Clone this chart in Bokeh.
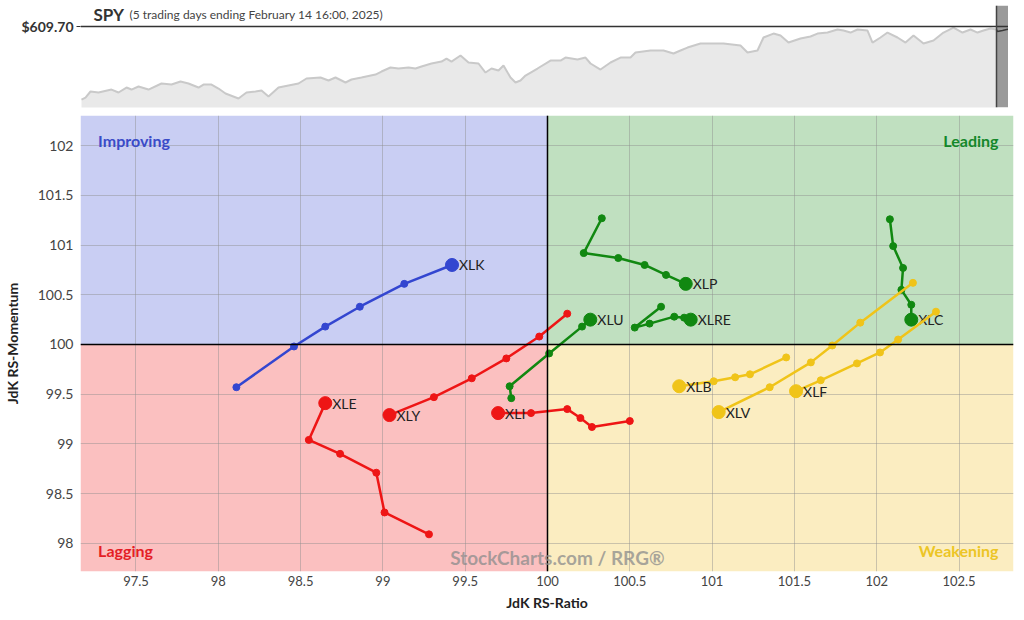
from bokeh.plotting import figure
from bokeh.layouts import column
from bokeh.models import BoxAnnotation, Span, Label, FixedTicker, Range1d
from bokeh.core.properties import value
from bokeh.embed import file_html
from bokeh.resources import INLINE

# ---------------- SPY panel data (one year history + last 5 trading days) -------------
spy_t = [1, 5, 10, 18, 31, 38, 46, 51, 58, 68, 81, 91, 100, 108, 118, 123, 131, 138, 145, 158,
         166, 175, 181, 188, 198, 208, 218, 226, 240, 248, 255, 265, 271, 281, 295, 301, 310, 318,
         328, 335, 341, 351, 361, 366, 371, 380, 388, 398, 405, 411, 418, 423, 430, 435, 440, 445,
         457, 470, 480, 485, 497, 505, 510, 520, 530, 540, 550, 555, 570, 583, 593, 600, 607, 620,
         630, 643, 660, 667, 677, 683, 693, 700, 708, 720, 730, 737, 747, 757, 763, 770, 777, 787,
         792, 800, 807, 817, 825, 833, 843, 853, 863, 873, 882, 890, 897, 903, 910, 916]
spy_price = [493.4, 496.6, 506.2, 504.6, 509.3, 504.6, 512.5, 509.3, 514.1, 509.3, 518.9, 517.3,
             522.1, 518.9, 512.5, 517.3, 517.3, 510.9, 503.0, 495.0, 504.6, 506.2, 507.7, 498.2,
             512.5, 515.7, 518.9, 526.9, 528.5, 523.7, 528.5, 520.5, 525.3, 528.5, 533.2, 538.0,
             544.4, 542.8, 544.4, 542.8, 546.0, 550.8, 553.9, 558.7, 553.9, 563.5, 552.4, 550.8,
             536.4, 542.8, 539.6, 547.6, 528.5, 520.5, 523.7, 531.6, 542.8, 555.5, 555.5, 560.3,
             557.1, 560.3, 550.8, 541.2, 552.4, 560.3, 560.3, 568.3, 571.5, 571.5, 566.7, 571.5,
             576.2, 582.6, 582.6, 582.6, 579.4, 568.3, 571.5, 592.2, 598.5, 595.4, 584.2, 590.6,
             593.8, 598.5, 600.1, 604.9, 603.3, 600.1, 604.9, 603.3, 584.2, 592.2, 600.1, 592.2,
             584.2, 595.4, 582.6, 587.4, 600.1, 608.1, 600.1, 604.9, 600.1, 603.3, 606.5, 604.9]
spy_last5_t = [916, 917, 922, 926, 930, 933]
spy_last5_price = [604.9, 601.7, 603.3, 604.9, 606.5, 609.7]
spy_last_price = 609.70
spy_window_start = 916

# ---------------- RRG tails (oldest -> newest) -------------
xlk_ratio = [98.11, 98.46, 98.65, 98.86, 99.13, 99.42]
xlk_momentum = [99.57, 99.98, 100.18, 100.38, 100.61, 100.80]
xlp_ratio = [100.33, 100.22, 100.43, 100.59, 100.72, 100.84]
xlp_momentum = [101.27, 100.92, 100.87, 100.80, 100.70, 100.61]
xlc_ratio = [102.08, 102.10, 102.16, 102.15, 102.21, 102.21]
xlc_momentum = [101.26, 100.99, 100.77, 100.55, 100.40, 100.25]
xlu_ratio = [99.78, 99.77, 100.01, 100.21, 100.26]
xlu_momentum = [99.46, 99.58, 99.91, 100.18, 100.25]
xlre_ratio = [100.69, 100.53, 100.62, 100.77, 100.83, 100.87]
xlre_momentum = [100.38, 100.17, 100.21, 100.28, 100.27, 100.25]
xly_ratio = [100.12, 99.95, 99.75, 99.54, 99.31, 99.04]
xly_momentum = [100.31, 100.08, 99.86, 99.66, 99.47, 99.29]
xle_ratio = [99.28, 99.01, 98.96, 98.74, 98.55, 98.65]
xle_momentum = [98.09, 98.31, 98.71, 98.90, 99.04, 99.41]
xli_ratio = [100.50, 100.27, 100.20, 100.12, 99.90, 99.70]
xli_momentum = [99.23, 99.17, 99.26, 99.35, 99.31, 99.31]
xlb_ratio = [101.45, 101.23, 101.14, 101.01, 100.80]
xlb_momentum = [99.87, 99.70, 99.67, 99.63, 99.58]
xlv_ratio = [102.22, 101.90, 101.73, 101.60, 101.35, 101.04]
xlv_momentum = [100.62, 100.22, 99.99, 99.82, 99.57, 99.32]
xlf_ratio = [102.36, 102.13, 102.02, 101.88, 101.66, 101.51]
xlf_momentum = [100.33, 100.05, 99.92, 99.81, 99.64, 99.53]

tickers = ["XLK", "XLP", "XLC", "XLU", "XLRE", "XLY", "XLE", "XLI", "XLB", "XLV", "XLF"]
tails = {
    "XLK": (xlk_ratio, xlk_momentum), "XLP": (xlp_ratio, xlp_momentum),
    "XLC": (xlc_ratio, xlc_momentum), "XLU": (xlu_ratio, xlu_momentum),
    "XLRE": (xlre_ratio, xlre_momentum), "XLY": (xly_ratio, xly_momentum),
    "XLE": (xle_ratio, xle_momentum), "XLI": (xli_ratio, xli_momentum),
    "XLB": (xlb_ratio, xlb_momentum), "XLV": (xlv_ratio, xlv_momentum),
    "XLF": (xlf_ratio, xlf_momentum),
}
center = 100.0

x_ticks = [97.5, 98, 98.5, 99, 99.5, 100, 100.5, 101, 101.5, 102, 102.5]
x_tick_labels = ["97.5", "98", "98.5", "99", "99.5", "100", "100.5", "101", "101.5", "102", "102.5"]
y_ticks = [98, 98.5, 99, 99.5, 100, 100.5, 101, 101.5, 102]
y_tick_labels = ["98", "98.5", "99", "99.5", "100", "100.5", "101", "101.5", "102"]

# ---------------- styles -------------
FONT = "Lato"
Q_BG = {"improving": "#c9cef3", "leading": "#c0e0c0", "lagging": "#fbc0c0", "weakening": "#fbedc1"}
Q_FG = {"improving": "#3a4bc8", "leading": "#14882a", "lagging": "#e41e26", "weakening": "#ecc526"}
Q_LINE = {"improving": "#3346d0", "leading": "#118811", "lagging": "#ee1515", "weakening": "#f0c419"}


def quadrant(r, m):
    if r >= center:
        return "leading" if m >= center else "weakening"
    return "improving" if m >= center else "lagging"


# ================= top SPY panel =================
top = figure(frame_width=933, frame_height=102, output_backend="svg", toolbar_location=None,
             x_range=Range1d(0, 933), y_range=Range1d(480.7, 643.2),
             min_border_left=74, min_border_right=1, min_border_top=5, min_border_bottom=3)
top.xaxis.visible = False
top.xgrid.visible = False
top.ygrid.visible = False
top.outline_line_color = None
top.background_fill_color = "white"

top.add_layout(BoxAnnotation(left=spy_window_start, fill_color="#9a9a9a", fill_alpha=1.0,
                             line_color=None, level="underlay"))
top.varea(x=spy_t, y1=[0] * len(spy_t), y2=spy_price, fill_color="#e9e9e9")
top.line(spy_t, spy_price, line_color="#c9c9c9", line_width=2)
top.line(spy_last5_t, spy_last5_price, line_color="#3a3a3a", line_width=1.5)
top.add_layout(Span(location=spy_last_price, dimension="width", line_color="#333333", line_width=1.5))
top.add_layout(Span(location=spy_window_start, dimension="height", line_color="#444444", line_width=1.5))

top.yaxis.ticker = FixedTicker(ticks=[spy_last_price])
top.yaxis.major_label_overrides = {spy_last_price: "$%.2f" % spy_last_price}
top.yaxis.axis_line_color = None
top.yaxis.major_tick_line_color = "#333333"
top.yaxis.major_tick_out = 4
top.yaxis.major_tick_in = 0
top.yaxis.minor_tick_line_color = None
top.yaxis.major_label_standoff = 3
top.yaxis.major_label_text_font = FONT
top.yaxis.major_label_text_font_size = "14px"
top.yaxis.major_label_text_font_style = "bold"
top.yaxis.major_label_text_color = "#333333"

top.add_layout(Label(x=13, y=628.8, text="SPY", text_font=FONT, text_font_size="17px",
                     text_font_style="bold", text_color="#333333", text_baseline="middle"))
top.add_layout(Label(x=49, y=628.8, text="(5 trading days ending February 14 16:00, 2025)",
                     text_font=FONT, text_font_size="12px", text_color="#444444",
                     text_baseline="middle"))

# ================= main RRG panel =================
p = figure(frame_width=933, frame_height=456, output_backend="svg", toolbar_location=None,
           x_range=Range1d(97.163, 102.831), y_range=Range1d(97.716, 102.304),
           min_border_left=74, min_border_right=1, min_border_top=5, min_border_bottom=38)
p.outline_line_color = None

p.add_layout(BoxAnnotation(right=center, bottom=center, fill_color=Q_BG["improving"], fill_alpha=1,
                           line_color=None, level="image"))
p.add_layout(BoxAnnotation(left=center, bottom=center, fill_color=Q_BG["leading"], fill_alpha=1,
                           line_color=None, level="image"))
p.add_layout(BoxAnnotation(right=center, top=center, fill_color=Q_BG["lagging"], fill_alpha=1,
                           line_color=None, level="image"))
p.add_layout(BoxAnnotation(left=center, top=center, fill_color=Q_BG["weakening"], fill_alpha=1,
                           line_color=None, level="image"))

p.xaxis.ticker = FixedTicker(ticks=x_ticks)
p.yaxis.ticker = FixedTicker(ticks=y_ticks)
p.xaxis.major_label_overrides = dict(zip(x_ticks, x_tick_labels))
p.yaxis.major_label_overrides = dict(zip(y_ticks, y_tick_labels))
p.grid.grid_line_color = "#8f8f8f"
p.grid.grid_line_alpha = 0.45
p.grid.grid_line_width = 1

for ax in (p.xaxis, p.yaxis):
    ax.axis_line_color = None
    ax.major_tick_line_color = None
    ax.minor_tick_line_color = None
    ax.major_tick_out = 0
    ax.major_tick_in = 0
    ax.minor_tick_out = 0
    ax.minor_tick_in = 0
    ax.major_label_text_font = FONT
    ax.major_label_text_color = "#444444"
    ax.axis_label_text_font = FONT
    ax.axis_label_text_font_size = "14px"
    ax.axis_label_text_font_style = "bold"
    ax.axis_label_text_color = "#222222"
p.xaxis.major_label_text_font_size = "13px"
p.yaxis.major_label_text_font_size = "14px"
p.xaxis.axis_label = "JdK RS-Ratio"
p.yaxis.axis_label = "JdK RS-Momentum"
p.xaxis.major_label_standoff = 4
p.xaxis.axis_label_standoff = 5
p.yaxis.major_label_standoff = 7
p.yaxis.axis_label_standoff = 14

p.add_layout(Span(location=center, dimension="width", line_color="black", line_width=1.5))
p.add_layout(Span(location=center, dimension="height", line_color="black", line_width=1.5))

# quadrant names
p.add_layout(Label(x=97.27, y=102.05, text="Improving", text_font=FONT, text_font_size="16px",
                   text_font_style="bold", text_color=Q_FG["improving"], text_baseline="middle"))
p.add_layout(Label(x=102.74, y=102.05, text="Leading", text_font=FONT, text_font_size="16px",
                   text_font_style="bold", text_color=Q_FG["leading"], text_baseline="middle",
                   text_align="right"))
p.add_layout(Label(x=97.27, y=97.93, text="Lagging", text_font=FONT, text_font_size="16px",
                   text_font_style="bold", text_color=Q_FG["lagging"], text_baseline="middle"))
p.add_layout(Label(x=102.74, y=97.93, text="Weakening", text_font=FONT, text_font_size="16px",
                   text_font_style="bold", text_color=Q_FG["weakening"], text_baseline="middle",
                   text_align="right"))
p.add_layout(Label(x=100.06, y=97.86, text="StockCharts.com / RRG\u00ae", text_font=FONT,
                   text_font_size="19px", text_font_style="bold", text_color="#8c8c8c",
                   text_alpha=0.75, text_baseline="middle", text_align="center"))

for t in tickers:
    r, m = tails[t]
    col = Q_LINE[quadrant(r[-1], m[-1])]
    p.line(r, m, line_color=col, line_width=2.5)
    p.scatter(r[:-1], m[:-1], size=7, fill_color=col, line_color=col)
    p.scatter([r[-1]], [m[-1]], size=13, fill_color=col, line_color=col)
    p.text(x=[r[-1]], y=[m[-1]], text=[t], x_offset=7, text_baseline="middle",
           text_font=value(FONT), text_font_size="14px", text_color="#222222")

layout = column(top, p, spacing=0)
open("out.html", "w").write(file_html(layout, INLINE))
